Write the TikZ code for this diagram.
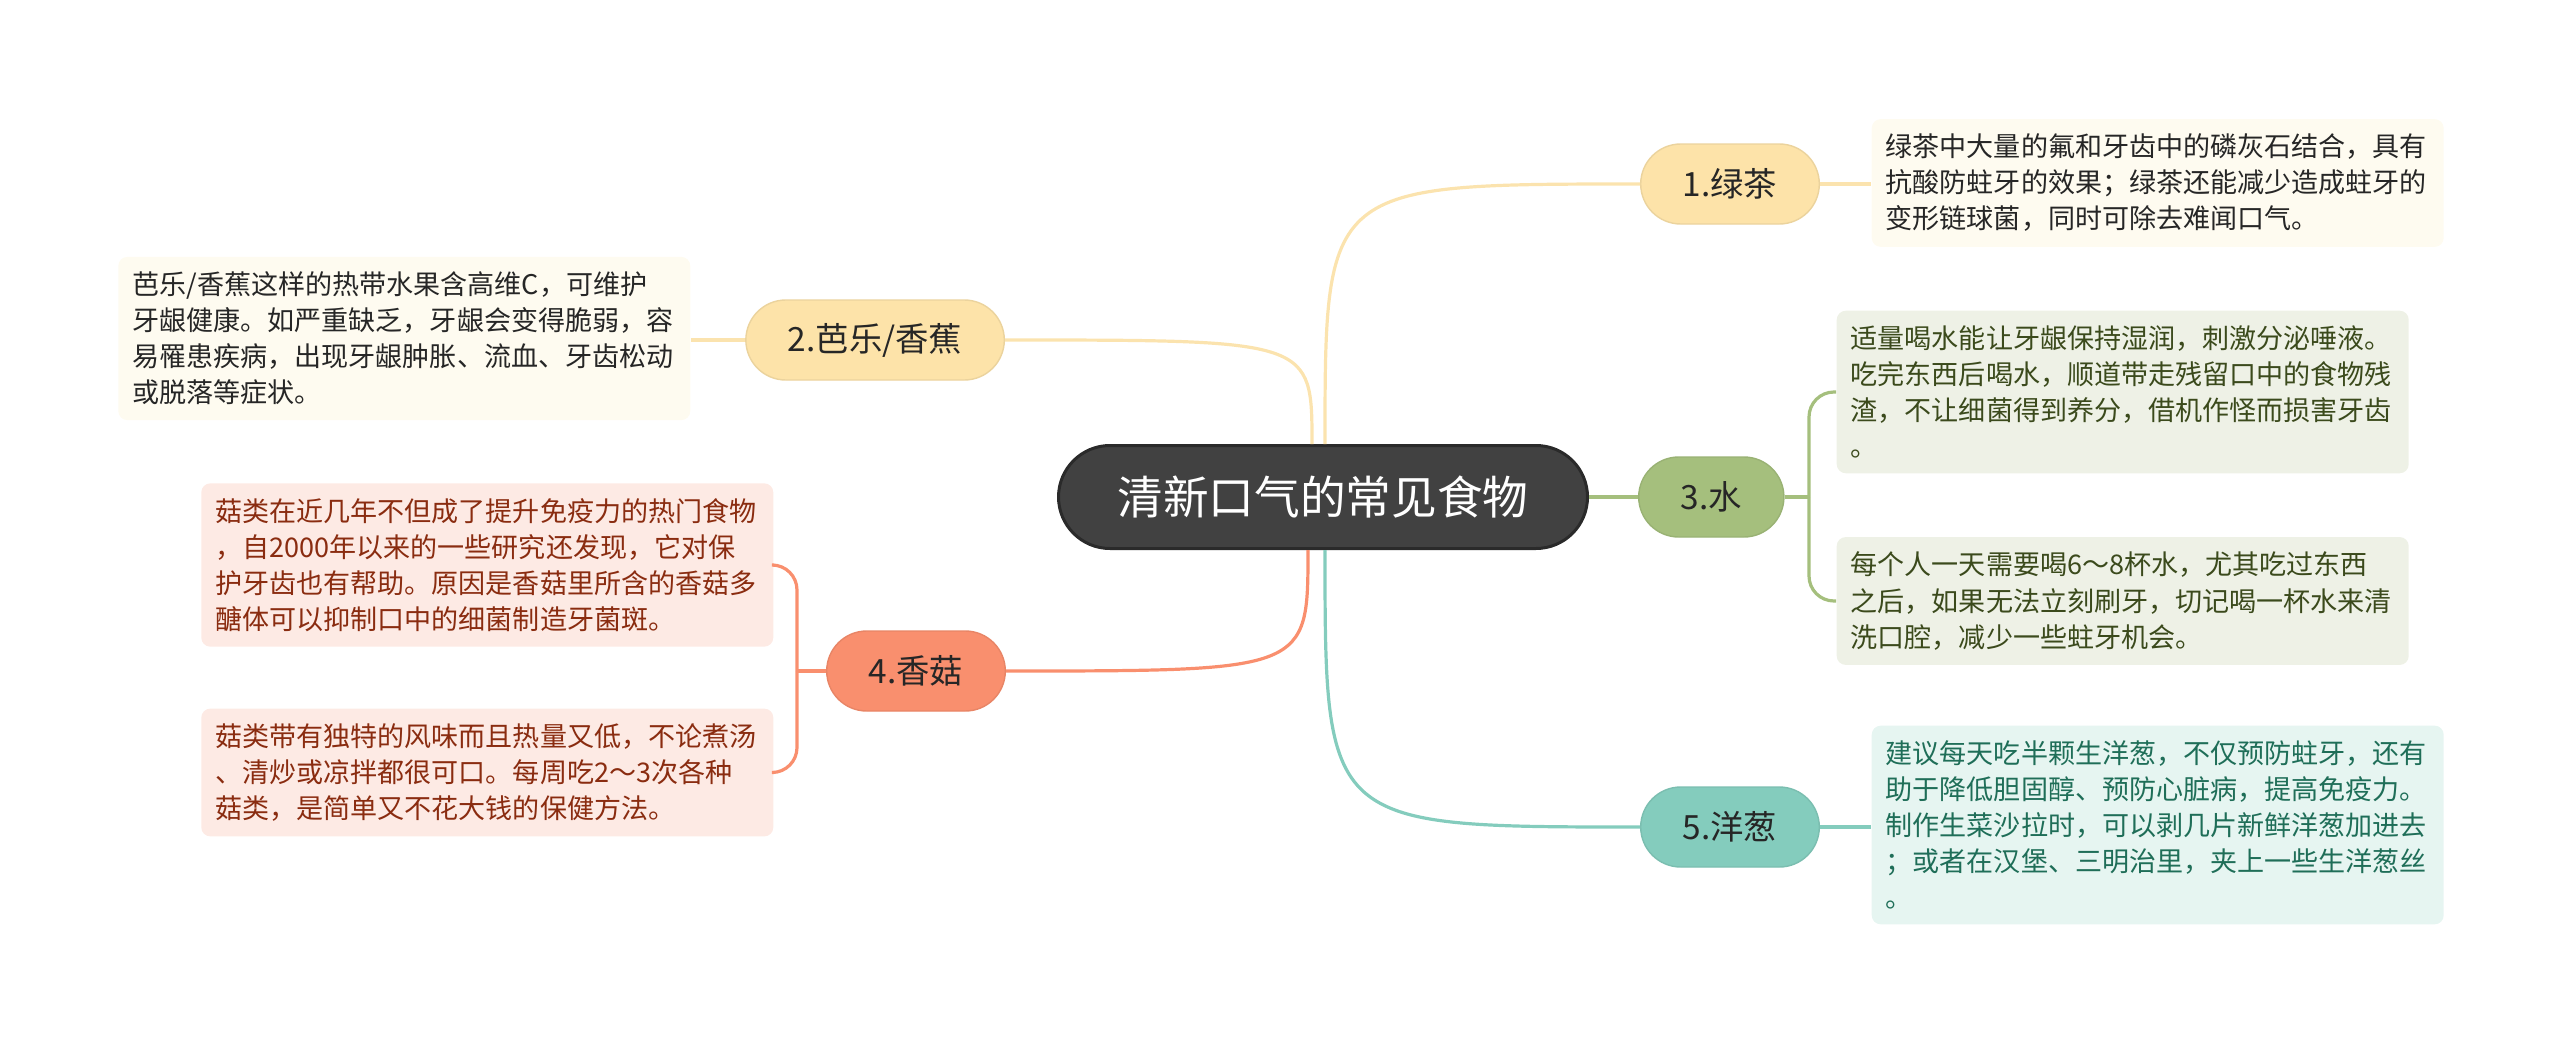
\documentclass[tikz,border=0pt]{standalone}
\usepackage{fontspec}
\newfontfamily\cjk{Noto Sans CJK SC}
\definecolor{Ink}{HTML}{262626}
\definecolor{RootFill}{HTML}{414141}
\definecolor{RootLine}{HTML}{2A2A2A}
\definecolor{TeaFill}{HTML}{FDE3A9}
\definecolor{TeaLine}{HTML}{FBE3AE}
\definecolor{TeaNote}{HTML}{FEFBF0}
\definecolor{WaterFill}{HTML}{A5BF7D}
\definecolor{WaterNote}{HTML}{EEF1E6}
\definecolor{WaterText}{HTML}{3B4A1C}
\definecolor{MushFill}{HTML}{F98F6E}
\definecolor{MushNote}{HTML}{FDEAE4}
\definecolor{MushText}{HTML}{8A2C10}
\definecolor{OnionFill}{HTML}{84CCBD}
\definecolor{OnionNote}{HTML}{E6F5F1}
\definecolor{OnionText}{HTML}{1F6E58}

\tikzset{
  root/.style={rectangle,rounded corners=0.515cm,minimum width=5.29cm,minimum height=1.03cm,
    fill=RootFill,draw=RootLine,line width=0.03cm,text=white,font=\cjk\fontsize{13}{15}\selectfont},
  topic/.style={rectangle,rounded corners=0.4cm,minimum height=0.8cm,inner xsep=0.42cm,inner ysep=0pt,
    fill=#1,draw=#1!93!black,line width=0.4pt,text=Ink,font=\cjk\fontsize{9.5}{11}\selectfont},
  note/.style={rectangle,rounded corners=0.09cm,align=left,text width=5.44cm,inner xsep=0.14cm,inner ysep=0.15cm,
    font=\cjk\fontsize{7.7}{10.25}\selectfont},
  teanote/.style={note,fill=TeaNote,text=Ink},
  waternote/.style={note,fill=WaterNote,text=WaterText},
  mushnote/.style={note,fill=MushNote,text=MushText},
  onionnote/.style={note,fill=OnionNote,text=OnionText},
  link/.style={draw=#1,line width=0.032cm},
  bracket/.style={draw=#1,line width=0.032cm,rounded corners=0.25cm},
}

\begin{document}
\begin{tikzpicture}[x=1cm,y=1cm]
\useasboundingbox (0,0) rectangle (25.6,-10.45);
% centre topic
\node[root] (root) at (13.23,-4.97) {清新口气的常见食物};
% main topics
\node[topic=TeaFill,anchor=west] (b1) at (16.40,-1.84) {1.绿茶};
\node[topic=TeaFill,anchor=east] (b2) at (10.05,-3.40) {2.芭乐/香蕉};
\node[topic=WaterFill,anchor=west] (b3) at (16.38,-4.97) {3.水};
\node[topic=MushFill,anchor=east] (b4) at (10.06,-6.71) {4.香菇};
\node[topic=OnionFill,anchor=west] (b5) at (16.40,-8.27) {5.洋葱};
% notes
\node[teanote,anchor=west] (tea) at (18.71,-1.83) {绿茶中大量的氟和牙齿中的磷灰石结合，具有\\抗酸防蛀牙的效果；绿茶还能减少造成蛀牙的\\变形链球菌，同时可除去难闻口气。};
\node[teanote,anchor=east] (guava) at (6.91,-3.385) {芭乐/香蕉这样的热带水果含高维C，可维护\\牙龈健康。如严重缺乏，牙龈会变得脆弱，容\\易罹患疾病，出现牙龈肿胀、流血、牙齿松动\\或脱落等症状。};
\node[waternote,anchor=west] (wa) at (18.36,-3.92) {适量喝水能让牙龈保持湿润，刺激分泌唾液。\\吃完东西后喝水，顺道带走残留口中的食物残\\渣，不让细菌得到养分，借机作怪而损害牙齿\\。};
\node[waternote,anchor=west] (wb) at (18.36,-6.01) {每个人一天需要喝6～8杯水，尤其吃过东西\\之后，如果无法立刻刷牙，切记喝一杯水来清\\洗口腔，减少一些蛀牙机会。};
\node[mushnote,anchor=east] (ma) at (7.74,-5.65) {菇类在近几年不但成了提升免疫力的热门食物\\，自2000年以来的一些研究还发现，它对保\\护牙齿也有帮助。原因是香菇里所含的香菇多\\醣体可以抑制口中的细菌制造牙菌斑。};
\node[mushnote,anchor=east] (mb) at (7.74,-7.725) {菇类带有独特的风味而且热量又低，不论煮汤\\、清炒或凉拌都很可口。每周吃2～3次各种\\菇类，是简单又不花大钱的保健方法。};
\node[onionnote,anchor=west] (onion) at (18.71,-8.25) {建议每天吃半颗生洋葱，不仅预防蛀牙，还有\\助于降低胆固醇、预防心脏病，提高免疫力。\\制作生菜沙拉时，可以剥几片新鲜洋葱加进去\\；或者在汉堡、三明治里，夹上一些生洋葱丝\\。};
% connectors from the centre
\coordinate (rt1) at ([xshift=0.02cm]root.north);
\coordinate (rt2) at ([xshift=-0.11cm]root.north);
\coordinate (rb4) at ([xshift=-0.15cm]root.south);
\coordinate (rb5) at ([xshift=0.02cm]root.south);
\draw[link=TeaLine] (rt1) .. controls (rt1 |- b1.west) .. (b1.west);
\draw[link=TeaLine] (rt2) .. controls (rt2 |- b2.east) .. (b2.east);
\draw[link=WaterFill] (root.east) -- (b3.west);
\draw[link=MushFill] (rb4) .. controls (rb4 |- b4.east) .. (b4.east);
\draw[link=OnionFill] (rb5) .. controls (rb5 |- b5.west) .. (b5.west);
% connectors to the notes
\draw[link=TeaLine] (b1.east) -- (tea.west |- b1.east);
\draw[link=TeaLine] (b2.west) -- (guava.east |- b2.west);
\draw[link=OnionFill] (b5.east) -- (onion.west |- b5.east);
\coordinate (j3) at (18.09,-4.97);
\draw[link=WaterFill] (b3.east) -- (j3);
\draw[bracket=WaterFill] (j3) -- (j3 |- wa.west) -- (wa.west);
\draw[bracket=WaterFill] (j3) -- (j3 |- wb.west) -- (wb.west);
\coordinate (j4) at (7.97,-6.71);
\draw[link=MushFill] (b4.west) -- (j4);
\draw[bracket=MushFill] (j4) -- (j4 |- ma.east) -- (ma.east);
\draw[bracket=MushFill] (j4) -- (j4 |- mb.east) -- (mb.east);
\end{tikzpicture}
\end{document}
